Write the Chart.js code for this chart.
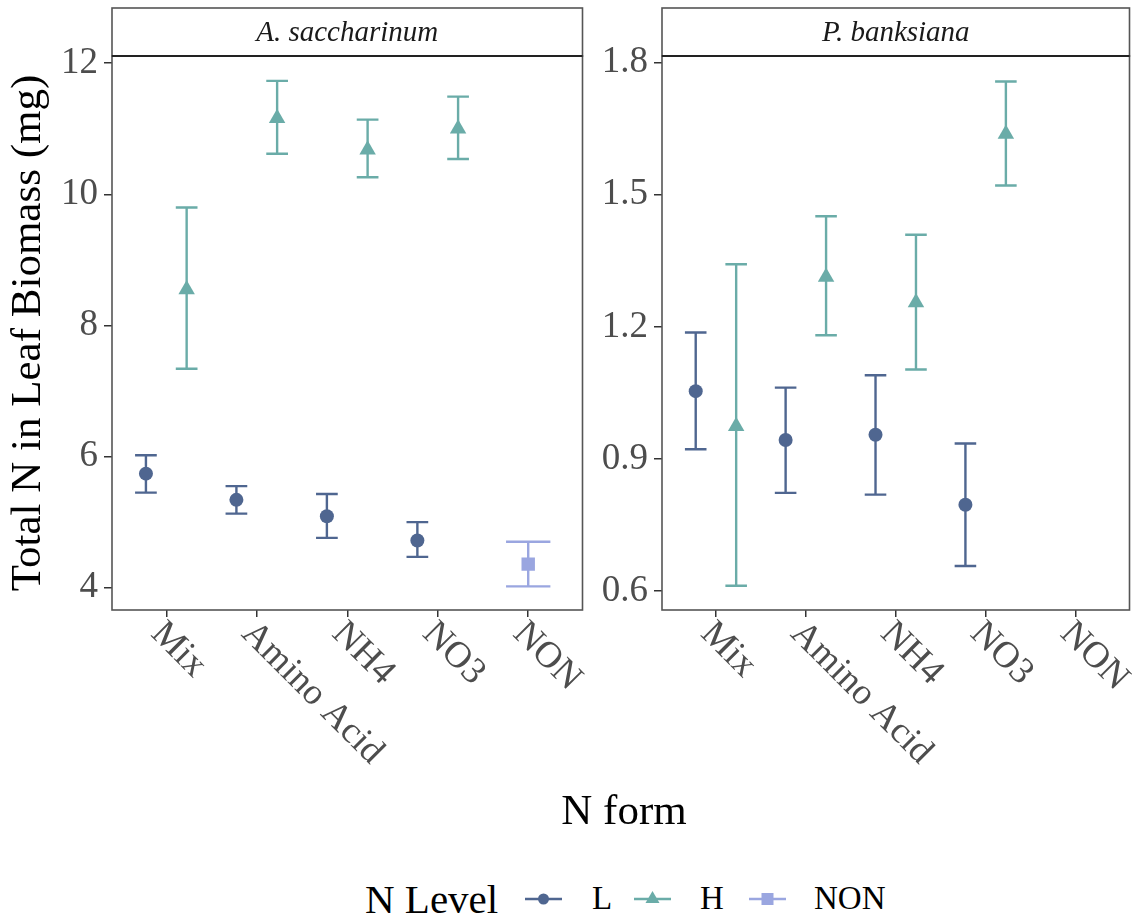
<!DOCTYPE html>
<html>
<head>
<meta charset="utf-8">
<script src="https://cdn.jsdelivr.net/npm/chart.js@4.4.1/dist/chart.umd.min.js"></script>
<style>
  body { margin: 0; background: #fff; font-family: 'Liberation Serif', serif; }
  #wrap { position: relative; width: 1139px; height: 920px; overflow: hidden; }
  canvas { position: absolute; top: 0; }
  #acer { left: 0; }
  #pinus { left: 592px; }
  .txt { position: absolute; white-space: nowrap; color: #000; line-height: 1; }
  .key { position: absolute; }
</style>
</head>
<body>
<div id="wrap">
  <canvas id="acer" width="592" height="790"></canvas>
  <canvas id="pinus" width="547" height="790"></canvas>
  <div class="txt" style="left:0;width:1248px;text-align:center;top:788px;font-size:43px">N form</div>
  <div class="txt" style="left:365px;top:879px;font-size:41px">N Level</div>
  <svg class="key" style="left:523px;top:884px" width="40" height="30" id="keyL"></svg>
  <div class="txt" style="left:592px;top:882px;font-size:33px">L</div>
  <svg class="key" style="left:632px;top:884px" width="40" height="30" id="keyH"></svg>
  <div class="txt" style="left:700px;top:882px;font-size:33px">H</div>
  <svg class="key" style="left:747px;top:884px" width="40" height="30" id="keyN"></svg>
  <div class="txt" style="left:814px;top:882px;font-size:33px">NON</div>
</div>
<script>
// N forms on the x axis (1-based positions)
const nForms = ['Mix', 'Amino Acid', 'NH4', 'NO3', 'NON'];
const fertForms = ['Mix', 'Amino Acid', 'NH4', 'NO3'];

// A. saccharinum: mean and error-bar limits
const acerLowMean = [5.74, 5.34, 5.09, 4.72];
const acerLowLower = [5.45, 5.13, 4.76, 4.47];
const acerLowUpper = [6.02, 5.55, 5.43, 5.00];
const acerHighMean = [8.55, 11.16, 10.68, 11.00];
const acerHighLower = [7.34, 10.62, 10.26, 10.54];
const acerHighUpper = [9.80, 11.73, 11.14, 11.49];
const acerNonMean = [4.36];
const acerNonLower = [4.02];
const acerNonUpper = [4.70];
const acerTicks = [4, 6, 8, 10, 12];

// P. banksiana
const pinusLowMean = [1.054, 0.943, 0.955, 0.796];
const pinusLowLower = [0.922, 0.823, 0.819, 0.657];
const pinusLowUpper = [1.187, 1.062, 1.090, 0.935];
const pinusHighMean = [0.974, 1.313, 1.255, 1.638];
const pinusHighLower = [0.612, 1.181, 1.103, 1.521];
const pinusHighUpper = [1.342, 1.451, 1.409, 1.757];
const pinusTicks = [0.6, 0.9, 1.2, 1.5, 1.8];

const colors = { L: '#4f6690', H: '#6aaca8', NON: '#9aa6e0' };
const dodge = 0.225;
const serif = "'Liberation Serif', serif";

function makePoints(forms, mean, lower, upper, shift) {
  return forms.map((f, i) => ({
    x: nForms.indexOf(f) + 1 + shift,
    y: mean[i],
    lo: lower[i],
    hi: upper[i]
  }));
}

// vertical error bars with caps, drawn under the points
const errorBars = {
  id: 'errorBars',
  beforeDatasetsDraw(chart) {
    const { ctx } = chart;
    const xs = chart.scales.x, ys = chart.scales.y;
    chart.data.datasets.forEach(ds => {
      ctx.save();
      ctx.strokeStyle = ds.borderColor;
      ctx.lineWidth = 2.4;
      ds.data.forEach(p => {
        const x = xs.getPixelForValue(p.x);
        const half = (xs.getPixelForValue(p.x + ds.capWidth / 2) - xs.getPixelForValue(p.x - ds.capWidth / 2)) / 2;
        const yl = ys.getPixelForValue(p.lo), yh = ys.getPixelForValue(p.hi);
        ctx.beginPath();
        ctx.moveTo(x, yl); ctx.lineTo(x, yh);
        ctx.moveTo(x - half, yl); ctx.lineTo(x + half, yl);
        ctx.moveTo(x - half, yh); ctx.lineTo(x + half, yh);
        ctx.stroke();
      });
      ctx.restore();
    });
  }
};

// panel border, facet strip and slanted x labels
const panelFrame = {
  id: 'panelFrame',
  afterDraw(chart, args, opts) {
    const { ctx, chartArea: a } = chart;
    ctx.save();
    ctx.strokeStyle = '#555';
    ctx.lineWidth = 1.6;
    ctx.strokeRect(a.left, a.top, a.right - a.left, a.bottom - a.top);
    // strip
    ctx.strokeRect(a.left, 8, a.right - a.left, a.top - 8);
    ctx.strokeStyle = '#222';
    ctx.lineWidth = 2.2;
    ctx.beginPath();
    ctx.moveTo(a.left, a.top); ctx.lineTo(a.right, a.top);
    ctx.stroke();
    ctx.fillStyle = '#1a1a1a';
    ctx.font = 'italic 29px ' + serif;
    ctx.textAlign = 'center';
    ctx.textBaseline = 'middle';
    ctx.fillText(opts.strip, (a.left + a.right) / 2, (a.top + 8) / 2 + 1);
    // x tick labels at -45 degrees, cap line starting at the tick
    const xs = chart.scales.x;
    const size = 37;
    ctx.fillStyle = '#4d4d4d';
    ctx.font = size + 'px ' + serif;
    ctx.textAlign = 'left';
    ctx.textBaseline = 'alphabetic';
    nForms.forEach((f, i) => {
      ctx.save();
      ctx.translate(xs.getPixelForValue(i + 1), a.bottom + 7);
      ctx.rotate(Math.PI / 4);
      ctx.fillText(f, 1, size * 0.66);
      ctx.restore();
    });
    ctx.restore();
  }
};

function createPanel(canvasId, cfg) {
  const ctx = document.getElementById(canvasId);
  const datasets = [
    { label: 'L', data: makePoints(fertForms, cfg.low[0], cfg.low[1], cfg.low[2], -dodge),
      pointStyle: 'circle', pointRadius: 7, capWidth: 0.24 },
    { label: 'H', data: makePoints(fertForms, cfg.high[0], cfg.high[1], cfg.high[2], dodge),
      pointStyle: 'triangle', pointRadius: 9.5, capWidth: 0.24 }
  ];
  if (cfg.non) {
    datasets.push({ label: 'NON', data: makePoints(['NON'], cfg.non[0], cfg.non[1], cfg.non[2], 0),
      pointStyle: 'rect', pointRadius: 9.5, capWidth: 0.49 });
  }
  datasets.forEach(ds => {
    ds.backgroundColor = colors[ds.label];
    ds.borderColor = colors[ds.label];
    ds.pointBorderWidth = 0;
    ds.showLine = false;
  });

  return new Chart(ctx, {
    type: 'scatter',
    data: { datasets },
    options: {
      responsive: false,
      animation: false,
      devicePixelRatio: 1,
      layout: { padding: { top: 56, right: cfg.padRight, left: 0, bottom: 0 } },
      plugins: {
        legend: { display: false },
        tooltip: { enabled: false },
        panelFrame: { strip: cfg.strip }
      },
      scales: {
        x: {
          type: 'linear',
          min: 0.4,
          max: 5.6,
          afterBuildTicks: s => { s.ticks = nForms.map((f, i) => ({ value: i + 1 })); },
          afterFit: s => { s.height = 180; },
          ticks: { display: false },
          border: { display: false },
          grid: { drawOnChartArea: false, drawTicks: true, tickLength: 7, color: '#333', lineWidth: 1.5 }
        },
        y: {
          min: cfg.yMin,
          max: cfg.yMax,
          afterBuildTicks: s => { s.ticks = cfg.ticks.map(v => ({ value: v })); },
          afterFit: s => { s.width = cfg.axisWidth; },
          ticks: {
            padding: 6,
            color: '#4d4d4d',
            font: { family: serif, size: 37 },
            callback: v => cfg.decimals ? v.toFixed(cfg.decimals) : String(v)
          },
          border: { display: false },
          grid: { drawOnChartArea: false, drawTicks: true, tickLength: 8, color: '#333', lineWidth: 1.5 },
          title: {
            display: !!cfg.title,
            text: cfg.title || '',
            color: '#000',
            font: { family: serif, size: 43 },
            padding: { top: 3, bottom: 0 }
          }
        }
      }
    },
    plugins: [errorBars, panelFrame]
  });
}

createPanel('acer', {
  strip: 'A. saccharinum',
  title: 'Total N in Leaf Biomass (mg)',
  low: [acerLowMean, acerLowLower, acerLowUpper],
  high: [acerHighMean, acerHighLower, acerHighUpper],
  non: [acerNonMean, acerNonLower, acerNonUpper],
  ticks: acerTicks, yMin: 3.66, yMax: 12.11, decimals: 0,
  axisWidth: 112, padRight: 5
});

createPanel('pinus', {
  strip: 'P. banksiana',
  low: [pinusLowMean, pinusLowLower, pinusLowUpper],
  high: [pinusHighMean, pinusHighLower, pinusHighUpper],
  ticks: pinusTicks, yMin: 0.557, yMax: 1.815, decimals: 1,
  axisWidth: 70, padRight: 3
});

// legend keys: short line with the group's marker
function drawKey(id, color, shape) {
  const svg = document.getElementById(id);
  const ns = 'http://www.w3.org/2000/svg';
  const line = document.createElementNS(ns, 'line');
  line.setAttribute('x1', 2); line.setAttribute('x2', 39);
  line.setAttribute('y1', 15); line.setAttribute('y2', 15);
  line.setAttribute('stroke', color); line.setAttribute('stroke-width', 2.4);
  svg.appendChild(line);
  let m;
  if (shape === 'circle') {
    m = document.createElementNS(ns, 'circle');
    m.setAttribute('cx', 20.5); m.setAttribute('cy', 15); m.setAttribute('r', 5.5);
  } else if (shape === 'triangle') {
    m = document.createElementNS(ns, 'polygon');
    m.setAttribute('points', '20.5,7 27.5,19 13.5,19');
  } else {
    m = document.createElementNS(ns, 'rect');
    m.setAttribute('x', 14.5); m.setAttribute('y', 9); m.setAttribute('width', 12); m.setAttribute('height', 12);
  }
  m.setAttribute('fill', color);
  svg.appendChild(m);
}
drawKey('keyL', colors.L, 'circle');
drawKey('keyH', colors.H, 'triangle');
drawKey('keyN', colors.NON, 'rect');
</script>
</body>
</html>
